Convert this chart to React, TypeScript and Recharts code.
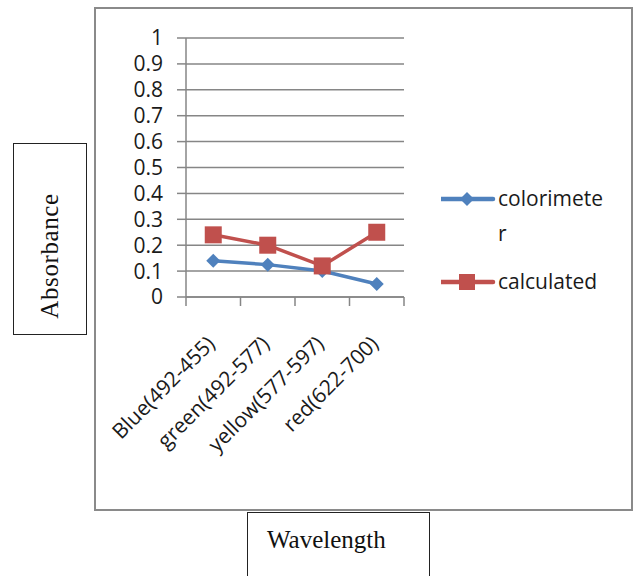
import React from 'react';
import { LineChart, Line, XAxis, YAxis, CartesianGrid, Legend } from 'recharts';

const categories = ['Blue(492-455)', 'green(492-577)', 'yellow(577-597)', 'red(622-700)'];
const colorimeter = [0.14, 0.125, 0.1, 0.05];
const calculated = [0.24, 0.2, 0.12, 0.25];
const yTicks = [0, 0.1, 0.2, 0.3, 0.4, 0.5, 0.6, 0.7, 0.8, 0.9, 1];
const seriesOrder = ['colorimeter', 'calculated'];

const data = categories.map((name, i) => ({
  name,
  colorimeter: colorimeter[i],
  calculated: calculated[i],
}));

const BLUE = '#4F81BD';
const RED = '#C0504D';
const GRID = '#868686';
const FONT = '"Open Sans", sans-serif';
const FS = 21;

const CHART_W = 535;
const CHART_H = 500;
const MARGIN = { top: 29, right: 227, left: 0, bottom: 0 };
const Y_WIDTH = 90;
const HALF_BAND = (CHART_W - MARGIN.right - Y_WIDTH) / (categories.length * 2);

const Diamond = (props: any) => {
  const { cx, cy } = props;
  if (cx == null || cy == null) return null;
  const r = 7;
  return <polygon points={`${cx},${cy - r} ${cx + r},${cy} ${cx},${cy + r} ${cx - r},${cy}`} fill={BLUE} />;
};

const Square = (props: any) => {
  const { cx, cy } = props;
  if (cx == null || cy == null) return null;
  const s = 17;
  return <rect x={cx - s / 2} y={cy - s / 2} width={s} height={s} fill={RED} />;
};

const CategoryTick = (props: any) => {
  const { x, y, payload, index } = props;
  return (
    <g>
      {index === 0 && <line x1={x - HALF_BAND} y1={y} x2={x - HALF_BAND} y2={y + 9} stroke={GRID} strokeWidth={1.5} />}
      <line x1={x + HALF_BAND} y1={y} x2={x + HALF_BAND} y2={y + 9} stroke={GRID} strokeWidth={1.5} />
      <text
        x={x + 3}
        y={y + 48}
        textAnchor="end"
        transform={`rotate(-45, ${x + 3}, ${y + 48})`}
        fontFamily={FONT}
        fontSize={FS}
        fill="#1a1a1a"
      >
        {payload.value}
      </text>
    </g>
  );
};

const wrapName = (name: string) => (name.length > 10 ? [name.slice(0, 10), name.slice(10)] : [name]);

const renderLegend = (props: any) => {
  const items = [...(props.payload || [])].sort(
    (a: any, b: any) => seriesOrder.indexOf(a.value) - seriesOrder.indexOf(b.value)
  );
  let cy = 9;
  return (
    <svg width={186} height={110}>
      {items.map((item: any) => {
        const lines = wrapName(item.value);
        const color = item.color;
        const y0 = cy;
        cy += lines.length > 1 ? 83 : 35;
        return (
          <g key={item.value}>
            <line x1={0} y1={y0} x2={52} y2={y0} stroke={color} strokeWidth={4.5} strokeLinecap="round" />
            {item.value === 'calculated' ? (
              <rect x={26 - 8} y={y0 - 8} width={16} height={16} fill={color} />
            ) : (
              <polygon points={`26,${y0 - 7} 33,${y0} 26,${y0 + 7} 19,${y0}`} fill={color} />
            )}
            {lines.map((ln, j) => (
              <text key={j} x={57} y={y0 + 7 + j * 35} fontFamily={FONT} fontSize={FS} fill="#1a1a1a">
                {ln}
              </text>
            ))}
          </g>
        );
      })}
    </svg>
  );
};

export default function App() {
  return (
    <div style={{ position: 'absolute', left: 0, top: 0, width: 635, height: 576, background: '#fff', overflow: 'hidden' }}>
      <div
        style={{
          position: 'absolute',
          left: 94,
          top: 7,
          width: CHART_W + 4,
          height: CHART_H + 4,
          border: '2px solid #8a8a8a',
          boxSizing: 'border-box',
        }}
      >
        <LineChart width={CHART_W} height={CHART_H} data={data} margin={MARGIN}>
          <CartesianGrid vertical={false} stroke={GRID} strokeWidth={1.5} />
          <XAxis
            dataKey="name"
            height={CHART_H - MARGIN.top - 259}
            padding={{ left: HALF_BAND, right: HALF_BAND }}
            stroke={GRID}
            strokeWidth={1.5}
            tickLine={false}
            tickSize={0}
            tickMargin={0}
            interval={0}
            tick={<CategoryTick />}
          />
          <YAxis
            width={Y_WIDTH}
            domain={[0, 1]}
            ticks={yTicks}
            interval={0}
            stroke={GRID}
            strokeWidth={1.5}
            tickSize={9}
            tickMargin={14}
            tickFormatter={(v: number) => (v === 0 || v === 1 ? String(v) : v.toFixed(1))}
            tick={{ fill: '#1a1a1a', fontSize: FS, fontFamily: FONT }}
          />
          <Legend
            layout="horizontal"
            verticalAlign="middle"
            align="center"
            content={renderLegend}
            wrapperStyle={{ left: 441 - 96, top: 181, width: 186, height: 110 }}
          />
          <Line
            dataKey="colorimeter"
            name="colorimeter"
            stroke={BLUE}
            strokeWidth={3.5}
            dot={<Diamond />}
            activeDot={false}
            isAnimationActive={false}
          />
          <Line
            dataKey="calculated"
            name="calculated"
            stroke={RED}
            strokeWidth={3.5}
            dot={<Square />}
            activeDot={false}
            isAnimationActive={false}
          />
        </LineChart>
      </div>
      <div
        style={{
          position: 'absolute',
          left: 13,
          top: 143,
          width: 74,
          height: 192,
          border: '1.5px solid #222',
          boxSizing: 'border-box',
        }}
      >
        <div
          style={{
            position: 'absolute',
            left: 37 - 1.5,
            top: 113 - 1.5,
            transform: 'translate(-50%, -50%) rotate(-90deg)',
            fontFamily: '"Liberation Serif", serif',
            fontSize: 25,
            letterSpacing: 0.6,
            whiteSpace: 'nowrap',
            color: '#111',
          }}
        >
          Absorbance
        </div>
      </div>
      <div
        style={{
          position: 'absolute',
          left: 247,
          top: 512,
          width: 183,
          height: 80,
          border: '1.5px solid #222',
          boxSizing: 'border-box',
          background: '#fff',
        }}
      >
        <div
          style={{
            position: 'absolute',
            left: 19,
            top: 13,
            fontFamily: '"Liberation Serif", serif',
            fontSize: 25,
            whiteSpace: 'nowrap',
            color: '#111',
          }}
        >
          Wavelength
        </div>
      </div>
    </div>
  );
}
